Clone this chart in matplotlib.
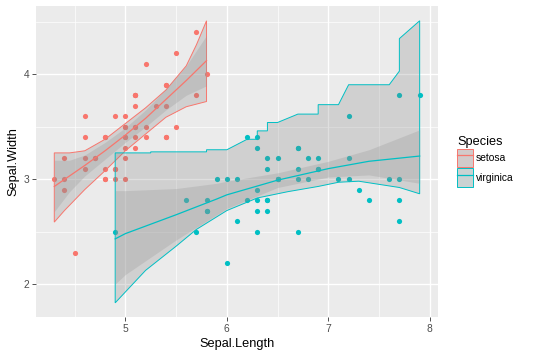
import numpy as np
import matplotlib
matplotlib.use("Agg")
from matplotlib import pyplot as plt
from matplotlib.patches import Patch
from matplotlib.lines import Line2D
from matplotlib.legend_handler import HandlerTuple

plt.rcParams['font.family'] = ['Liberation Sans', 'DejaVu Sans']

# iris: setosa and virginica
setosa_len = [5.1, 4.9, 4.7, 4.6, 5.0, 5.4, 4.6, 5.0, 4.4, 4.9, 5.4, 4.8, 4.8, 4.3, 5.8, 5.7, 5.4,
              5.1, 5.7, 5.1, 5.4, 5.1, 4.6, 5.1, 4.8, 5.0, 5.0, 5.2, 5.2, 4.7, 4.8, 5.4, 5.2, 5.5,
              4.9, 5.0, 5.5, 4.9, 4.4, 5.1, 5.0, 4.5, 4.4, 5.0, 5.1, 4.8, 5.1, 4.6, 5.3, 5.0]
setosa_wid = [3.5, 3.0, 3.2, 3.1, 3.6, 3.9, 3.4, 3.4, 2.9, 3.1, 3.7, 3.4, 3.0, 3.0, 4.0, 4.4, 3.9,
              3.5, 3.8, 3.8, 3.4, 3.7, 3.6, 3.3, 3.4, 3.0, 3.4, 3.5, 3.4, 3.2, 3.1, 3.4, 4.1, 4.2,
              3.1, 3.2, 3.5, 3.6, 3.0, 3.4, 3.5, 2.3, 3.2, 3.5, 3.8, 3.0, 3.8, 3.2, 3.7, 3.3]
virg_len = [6.3, 5.8, 7.1, 6.3, 6.5, 7.6, 4.9, 7.3, 6.7, 7.2, 6.5, 6.4, 6.8, 5.7, 5.8, 6.4, 6.5,
            7.7, 7.7, 6.0, 6.9, 5.6, 7.7, 6.3, 6.7, 7.2, 6.2, 6.1, 6.4, 7.2, 7.4, 7.9, 6.4, 6.3,
            6.1, 7.7, 6.3, 6.4, 6.0, 6.9, 6.7, 6.9, 5.8, 6.8, 6.7, 6.7, 6.3, 6.5, 6.2, 5.9]
virg_wid = [3.3, 2.7, 3.0, 2.9, 3.0, 3.0, 2.5, 2.9, 2.5, 3.6, 3.2, 2.7, 3.0, 2.5, 2.8, 3.2, 3.0,
            3.8, 2.6, 2.2, 3.2, 2.8, 2.8, 2.7, 3.3, 3.2, 2.8, 3.0, 2.8, 3.0, 2.8, 3.8, 2.8, 2.8,
            2.6, 3.0, 3.4, 3.1, 3.0, 3.1, 3.1, 3.1, 2.7, 3.2, 3.3, 3.0, 2.5, 3.0, 3.4, 3.0]

# setosa outer band
s_up_x = [4.3, 4.45, 4.6, 4.8, 5.0, 5.2, 5.4, 5.6, 5.7, 5.8]
s_up_y = [3.25, 3.25, 3.27, 3.38, 3.53, 3.68, 3.85, 4.08, 4.28, 4.51]
s_lo_x = [4.3, 4.4, 4.5, 4.6, 4.8, 5.0, 5.2, 5.4, 5.6, 5.8]
s_lo_y = [2.59, 2.70, 2.80, 2.90, 3.08, 3.27, 3.43, 3.59, 3.69, 3.74]
# setosa smooth + CI
s_fit_x = [4.3, 4.45, 4.6, 4.8, 5.0, 5.2, 5.4, 5.6, 5.8]
s_fit_y = [2.93, 3.03, 3.13, 3.27, 3.42, 3.58, 3.76, 3.94, 4.13]
s_ci_hi = [3.18, 3.18, 3.23, 3.35, 3.49, 3.66, 3.86, 4.08, 4.37]
s_ci_lo = [2.69, 2.88, 3.03, 3.19, 3.35, 3.50, 3.66, 3.80, 3.89]

# virginica outer polygon: stepped top, smooth bottom
v_top_x = [4.9, 5.25, 5.25, 5.8, 5.8, 6.0, 6.2, 6.3, 6.3, 6.4, 6.4, 6.5, 6.7, 6.9, 6.9,
           7.1, 7.2, 7.6, 7.7, 7.7, 7.9]
v_top_y = [3.25, 3.25, 3.26, 3.26, 3.28, 3.28, 3.38, 3.38, 3.46, 3.46, 3.54, 3.54, 3.62, 3.62, 3.71,
           3.71, 3.90, 3.90, 4.03, 4.34, 4.51]
v_bot_x = [7.9, 7.7, 7.5, 7.3, 7.1, 6.9, 6.6, 6.3, 6.0, 5.7, 5.5, 5.2, 4.9]
v_bot_y = [2.86, 2.92, 2.95, 2.98, 2.97, 2.93, 2.88, 2.82, 2.70, 2.52, 2.36, 2.13, 1.82]
# virginica smooth + CI
v_fit_x = [4.9, 5.0, 5.5, 5.9, 6.0, 6.5, 7.0, 7.4, 7.9]
v_fit_y = [2.43, 2.48, 2.66, 2.81, 2.85, 2.99, 3.10, 3.17, 3.22]
v_ci_hi = [2.89, 2.89, 2.91, 2.96, 2.98, 3.06, 3.17, 3.28, 3.47]
v_ci_lo = [2.00, 2.09, 2.42, 2.66, 2.72, 2.92, 3.02, 3.04, 2.96]

red = '#F8766D'
teal = '#00BFC4'

fig = plt.figure(figsize=(5.4, 3.58), dpi=100)
ax = fig.add_axes([0.0667, 0.1145, 0.7443, 0.8685])
ax.set_facecolor('#EBEBEB')

ax.scatter(setosa_len, setosa_wid, s=14, color=red, linewidths=0, zorder=2)
ax.scatter(virg_len, virg_wid, s=14, color=teal, linewidths=0, zorder=2)

# setosa
sx = s_up_x + s_lo_x[::-1]
sy = s_up_y + s_lo_y[::-1]
ax.fill(sx, sy, facecolor='#808080', alpha=0.25, edgecolor='none', zorder=3)
ax.fill(sx, sy, facecolor='none', edgecolor=red, lw=0.7, zorder=3)
ax.fill_between(s_fit_x, s_ci_lo, s_ci_hi, color='#999999', alpha=0.3, lw=0, zorder=4)
ax.plot(s_fit_x, s_fit_y, color=red, lw=0.9, zorder=5)

# virginica
vx = v_top_x + v_bot_x
vy = v_top_y + v_bot_y
ax.fill(vx, vy, facecolor='#808080', alpha=0.25, edgecolor='none', zorder=3)
ax.fill(vx, vy, facecolor='none', edgecolor=teal, lw=0.7, zorder=3)
ax.fill_between(v_fit_x, v_ci_lo, v_ci_hi, color='#999999', alpha=0.3, lw=0, zorder=4)
ax.plot(v_fit_x, v_fit_y, color=teal, lw=0.9, zorder=5)

ax.set_xlim(4.12, 8.08)
ax.set_ylim(1.685, 4.65)
ax.set_xticks([5, 6, 7, 8])
ax.set_yticks([2, 3, 4])
ax.set_xticks([4.5, 5.5, 6.5, 7.5], minor=True)
ax.set_yticks([2.5, 3.5, 4.5], minor=True)
ax.grid(True, which='major', color='white', lw=1.0)
ax.grid(True, which='minor', color='white', lw=0.5)
ax.set_axisbelow(True)
for sp in ax.spines.values():
    sp.set_visible(False)
ax.tick_params(which='major', direction='out', length=3, width=0.6, color='#333333',
               labelsize=7.4, labelcolor='#4D4D4D', pad=2)
ax.tick_params(which='minor', length=0)
ax.set_xlabel('Sepal.Length', fontsize=9.2, labelpad=3)
ax.set_ylabel('Sepal.Width', fontsize=9.2, labelpad=3)

h_s = (Patch(facecolor='#D2CACA', edgecolor=red, lw=0.7), Line2D([], [], color=red, lw=0.9))
h_v = (Patch(facecolor='#CBD2D2', edgecolor=teal, lw=0.7), Line2D([], [], color=teal, lw=0.9))
leg = fig.legend(handles=[h_s, h_v], labels=['setosa', 'virginica'], title='Species',
                 handler_map={tuple: HandlerTuple(ndivide=1, pad=0)},
                 loc='upper left', bbox_to_anchor=(0.837, 0.635), frameon=False,
                 fontsize=7.4, title_fontsize=9.2, handlelength=1.5, handleheight=2.35,
                 handletextpad=0.35, labelspacing=0.12, borderpad=0, alignment='left')

fig.savefig('out.png', dpi=100)
